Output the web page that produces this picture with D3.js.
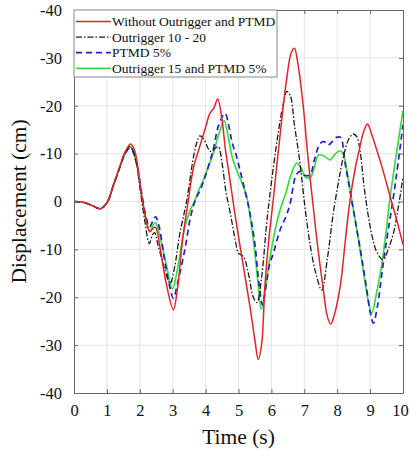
<!DOCTYPE html>
<html>
<head>
<meta charset="utf-8">
<script src="https://cdn.jsdelivr.net/npm/d3@7"></script>
<style>
  body { margin: 0; background: #fff; }
  svg text { font-family: "Liberation Serif", "Times New Roman", serif; fill: #111; }
</style>
</head>
<body>
<svg width="410" height="450"></svg>
<script>
// series: [time (s), displacement (cm)], up on the chart = negative
var noOutrigger = [[0,0],[0.3,0.2],[0.6,1],[0.8,1.5],[1.0,0.3],[1.2,-3.5],[1.4,-7.5],[1.55,-10.3],[1.72,-12],
  [1.85,-10.5],[2.0,-4],[2.15,2.5],[2.3,6.3],[2.4,5.6],[2.48,5.4],[2.6,9],[2.8,17],[3.02,22.6],[3.15,18],
  [3.3,8],[3.47,0],[3.63,-7],[3.8,-11],[4.0,-15.5],[4.13,-18.4],[4.25,-19.5],[4.37,-21.4],[4.5,-17],
  [4.6,-11],[4.74,-4.5],[4.9,3],[5.15,13.6],[5.35,22],[5.5,29],[5.6,33],[5.7,30],[5.8,18],[5.9,9.4],
  [6.05,0],[6.25,-13],[6.46,-25.4],[6.6,-31],[6.7,-32],[6.8,-29],[6.97,-19.8],[7.1,-10],[7.27,1],[7.4,9],
  [7.58,18.5],[7.7,24],[7.8,25.6],[7.9,24],[8.09,17.8],[8.25,8],[8.39,-0.3],[8.55,-7],[8.69,-11.4],
  [8.8,-14.5],[8.92,-16.2],[9.05,-14],[9.2,-10.8],[9.35,-7.5],[9.5,-3.8],[9.65,0],[9.81,3.9],[10,9]];

var outrigger1020 = [[0,0],[0.3,0.2],[0.6,1],[0.8,1.5],[1.0,0.3],[1.2,-3.4],[1.4,-7.3],[1.55,-10],[1.7,-11.5],
  [1.85,-9.5],[2.0,-3],[2.15,4],[2.29,8.8],[2.38,7],[2.45,6.5],[2.55,9],[2.75,14],[2.92,17.1],[3.05,14],
  [3.22,6.6],[3.43,-0.3],[3.6,-8],[3.72,-12],[3.83,-13.7],[3.95,-13],[4.1,-10.8],[4.18,-10.4],[4.3,-11.2],
  [4.39,-11.4],[4.5,-8],[4.62,-2],[4.75,2.4],[4.9,8],[5.0,10.8],[5.15,11.5],[5.3,15],[5.45,20],[5.56,21.1],
  [5.7,16],[5.85,5],[6.0,-4],[6.2,-14],[6.35,-20],[6.47,-23],[6.57,-22.2],[6.7,-16],[6.87,-8],[7.0,0],
  [7.17,8.7],[7.35,15],[7.53,18.5],[7.7,12],[7.88,2.5],[8.05,-4.5],[8.19,-9.4],[8.35,-13],[8.49,-14.1],
  [8.6,-13.5],[8.69,-10.8],[8.82,-3],[8.95,3.2],[9.07,7.5],[9.2,10.5],[9.4,12.2],[9.55,10],[9.71,6.6],
  [9.85,1.5],[10,-5]];

var ptmd5 = [[0,0],[0.3,0.2],[0.6,1],[0.8,1.5],[1.0,0.3],[1.2,-3.4],[1.4,-7.3],[1.55,-10],[1.72,-11.3],
  [1.9,-8],[2.05,-2],[2.2,3.5],[2.3,5.3],[2.4,4],[2.48,3.2],[2.58,5],[2.75,12],[2.9,17.5],[3.02,20.2],
  [3.15,17],[3.37,10],[3.55,3],[3.7,-0.5],[3.85,-2.6],[4.0,-5.5],[4.23,-10.8],[4.4,-16],[4.59,-18.4],
  [4.7,-16],[4.8,-12.5],[4.94,-9.4],[5.1,-5],[5.35,2.5],[5.5,9],[5.62,17],[5.73,21.6],[5.85,17],[5.95,13],
  [6.06,10.8],[6.26,6],[6.45,3],[6.57,0.4],[6.75,-5.5],[6.87,-6.3],[7.0,-5.5],[7.17,-5.5],[7.3,-8.5],
  [7.48,-12.1],[7.6,-12.5],[7.73,-11.8],[7.85,-12.5],[7.98,-13.4],[8.1,-13.4],[8.24,-8],[8.42,-1],[8.6,6],
  [8.75,12],[8.9,18.5],[9.0,23],[9.1,25.4],[9.22,22],[9.4,12.9],[9.55,6],[9.71,-1],[9.85,-8],[10,-16]];

var outrigger15ptmd = [[0,0],[0.3,0.2],[0.6,1],[0.8,1.5],[1.0,0.3],[1.2,-3.4],[1.4,-7.3],[1.55,-10],[1.7,-11.5],
  [1.9,-8],[2.05,-1.5],[2.2,4],[2.31,6.3],[2.4,5],[2.48,4.4],[2.6,7],[2.8,13],[2.99,18.3],[3.12,15],
  [3.37,5.3],[3.52,2],[3.68,-0.3],[3.8,-2.5],[3.93,-4.5],[4.1,-7.5],[4.23,-10],[4.4,-14],[4.56,-16.9],
  [4.7,-13],[4.8,-9.5],[4.94,-6.6],[5.1,-4],[5.25,-1],[5.35,3],[5.45,8],[5.58,16],[5.69,22.5],[5.8,19],
  [5.95,12],[6.16,4.5],[6.3,1],[6.45,-2],[6.57,-5],[6.77,-8],[6.9,-7],[7.02,-5.2],[7.17,-4.9],[7.3,-7],
  [7.43,-9.7],[7.6,-9.5],[7.78,-8.7],[7.95,-10],[8.09,-10.6],[8.2,-9.5],[8.29,-6.6],[8.45,0],[8.6,6],
  [8.75,12.5],[8.85,17],[8.95,21],[9.05,23.3],[9.2,19],[9.36,12.9],[9.5,5.5],[9.61,-1],[9.8,-10],[10,-19]];

var seriesNames = ["Without Outrigger and PTMD", "Outrigger 10 - 20", "PTMD 5%", "Outrigger 15 and PTMD 5%"];
var xTicks = [0,1,2,3,4,5,6,7,8,9,10];
var yTicks = [-40,-30,-20,-10,0,10,20,30,40];

var svg = d3.select("svg");
var margin = {left: 74, right: 7, top: 10, bottom: 57};
var w = 410 - margin.left - margin.right,
    h = 450 - margin.top - margin.bottom;

var x = d3.scaleLinear().domain([0, 10]).range([0, w]);
var y = d3.scaleLinear().domain([-40, 40]).range([0, h]);

var g = svg.append("g").attr("transform", "translate(" + margin.left + "," + margin.top + ")");

// grid
g.append("g").selectAll("line").data(xTicks.slice(1, -1)).enter().append("line")
  .attr("x1", d => x(d)).attr("x2", d => x(d)).attr("y1", 0).attr("y2", h)
  .style("stroke", "#e4e4e4");
g.append("g").selectAll("line").data(yTicks.slice(1, -1)).enter().append("line")
  .attr("y1", d => y(d)).attr("y2", d => y(d)).attr("x1", 0).attr("x2", w)
  .style("stroke", "#e4e4e4");

// lines
var line = d3.line().x(d => x(d[0])).y(d => y(d[1])).curve(d3.curveCatmullRom.alpha(0.5));
var styles = [
  {data: noOutrigger, color: "#e0242c", dash: null, width: 1.5},
  {data: outrigger1020, color: "#1a1a1a", dash: "6,2,1.5,2", width: 1.3},
  {data: ptmd5, color: "#2222cc", dash: "6,4", width: 1.7},
  {data: outrigger15ptmd, color: "#3ddc3d", dash: null, width: 1.7}
];
// drawing order: green under red etc. roughly as in picture
[3, 2, 1, 0].forEach(function(i) {
  var s = styles[i];
  g.append("path").datum(s.data)
    .attr("d", line)
    .style("fill", "none")
    .style("stroke", s.color)
    .style("stroke-width", s.width)
    .style("stroke-dasharray", s.dash);
});

// axes
function fmt(d) { return d === 0 ? "0" : "-" + Math.abs(d); }
var yAxis = g.append("g").call(d3.axisLeft(y).tickValues(yTicks).tickFormat(fmt).tickSizeInner(-4).tickSizeOuter(0).tickPadding(12));
var xAxis = g.append("g").attr("transform", "translate(0," + h + ")")
  .call(d3.axisBottom(x).tickValues(xTicks).tickSizeInner(-4).tickSizeOuter(0).tickPadding(11));
var rAxis = g.append("g").attr("transform", "translate(" + w + ",0)")
  .call(d3.axisRight(y).tickValues(yTicks).tickFormat("").tickSizeInner(-4).tickSizeOuter(0));
var tAxis = g.append("g")
  .call(d3.axisTop(x).tickValues(xTicks).tickFormat("").tickSizeInner(-4).tickSizeOuter(0));

[yAxis, xAxis, rAxis, tAxis].forEach(function(a) {
  a.select(".domain").style("stroke", "#666");
  a.selectAll(".tick line").style("stroke", "#666");
  a.selectAll("text").style("font-family", "'Liberation Serif', serif").style("font-size", "16.5px").style("fill", "#111");
});
// last x label sits a bit inside so it stays in the window
xAxis.selectAll(".tick text").filter(d => d === 10).attr("dx", -3);

// legend
var lg = g.append("g");
lg.append("rect").attr("x", 0).attr("y", 0).attr("width", 203).attr("height", 67)
  .style("fill", "#fff").style("stroke", "#888").style("stroke-width", 1);
seriesNames.forEach(function(name, i) {
  var s = styles[i], yy = 11.5 + i * 15.6;
  lg.append("line").attr("x1", 2).attr("x2", 37).attr("y1", yy).attr("y2", yy)
    .style("stroke", s.color).style("stroke-width", s.width).style("stroke-dasharray", s.dash);
  lg.append("text").attr("x", 38).attr("y", yy + 4.5).style("font-size", "13.5px").text(name);
});

// axis titles
svg.append("text").attr("x", margin.left + w / 2).attr("y", 444).attr("text-anchor", "middle")
  .style("font-size", "21.5px").text("Time (s)");
svg.append("text").attr("transform", "translate(26," + (margin.top + h / 2) + ") rotate(-90)")
  .attr("text-anchor", "middle").style("font-size", "21.5px").text("Displacement (cm)");
</script>
</body>
</html>
